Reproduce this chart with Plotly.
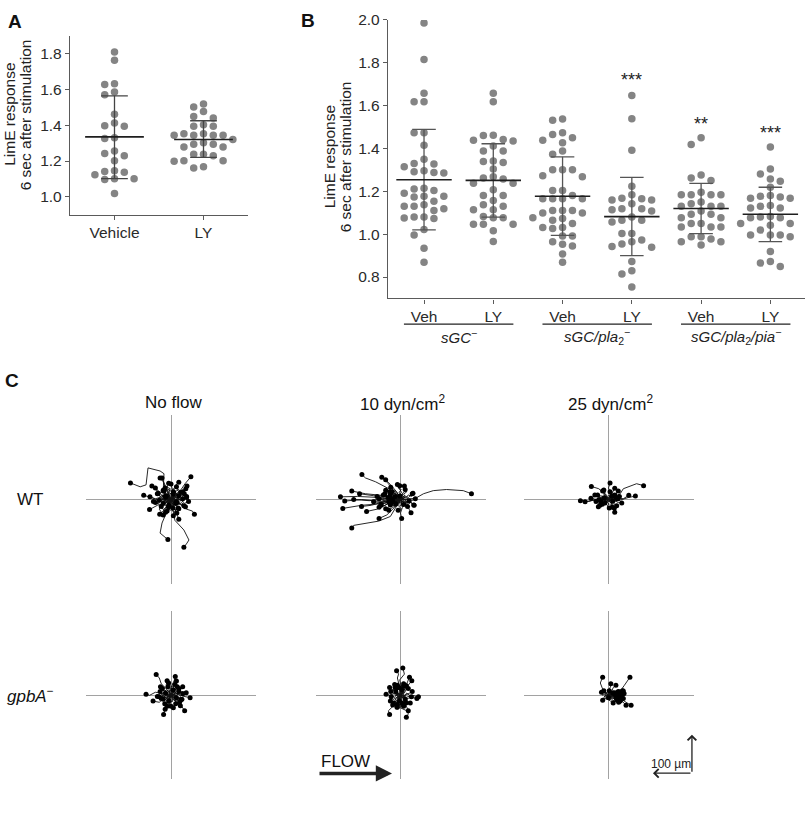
import plotly.graph_objects as go

# ---------------- Panel A data ----------------
A_CATS = ["Vehicle", "LY"]
A_VEHICLE = [1.809, 1.763, 1.632, 1.628, 1.586, 1.57, 1.461, 1.412, 1.397, 1.394, 1.33, 1.326,
             1.256, 1.242, 1.229, 1.201, 1.146, 1.141, 1.137, 1.123, 1.101, 1.101, 1.097, 1.018]
A_LY = [1.518, 1.502, 1.476, 1.449, 1.44, 1.403, 1.394, 1.394, 1.352, 1.352, 1.344, 1.344, 1.344,
        1.344, 1.32, 1.302, 1.293, 1.293, 1.278, 1.278, 1.238, 1.238, 1.229, 1.201, 1.201, 1.198,
        1.168, 1.161]
A_MEAN = [1.335, 1.32]
A_SD_HI = [1.564, 1.425]
A_SD_LO = [1.101, 1.22]
A_TICKS = [1.0, 1.2, 1.4, 1.6, 1.8]

# ---------------- Panel B data ----------------
B_TREAT = ["Veh", "LY", "Veh", "LY", "Veh", "LY"]
B_GENOTYPES = ["<i>sGC</i><sup>−</sup>", "<i>sGC/pla</i><sub>2</sub><sup>−</sup>",
               "<i>sGC/pla</i><sub>2</sub><i>/pia</i><sup>−</sup>"]
B_G1 = [1.986, 1.815, 1.658, 1.618, 1.618, 1.473, 1.473, 1.415, 1.35, 1.33, 1.327, 1.315, 1.296,
        1.291, 1.288, 1.285, 1.214, 1.211, 1.204, 1.191, 1.177, 1.177, 1.173, 1.154, 1.137, 1.13,
        1.13, 1.119, 1.111, 1.08, 1.08, 1.076, 1.073, 1.022, 0.996, 0.934, 0.869]
B_G2 = [1.658, 1.618, 1.462, 1.461, 1.442, 1.438, 1.435, 1.412, 1.388, 1.388, 1.342, 1.339, 1.335,
        1.304, 1.268, 1.262, 1.258, 1.238, 1.238, 1.207, 1.181, 1.181, 1.157, 1.137, 1.13, 1.114,
        1.114, 1.083, 1.077, 1.077, 1.046, 1.046, 1.046, 1.016, 0.966]
B_G3 = [1.538, 1.532, 1.473, 1.465, 1.45, 1.438, 1.427, 1.388, 1.373, 1.301, 1.301, 1.301, 1.273,
        1.268, 1.204, 1.204, 1.181, 1.165, 1.165, 1.165, 1.165, 1.111, 1.111, 1.111, 1.099, 1.099,
        1.077, 1.073, 1.065, 1.05, 1.031, 1.031, 1.026, 0.991, 0.991, 0.965, 0.953, 0.945, 0.908,
        0.869]
B_G4 = [1.647, 1.539, 1.392, 1.224, 1.184, 1.168, 1.165, 1.16, 1.16, 1.142, 1.119, 1.119, 1.114,
        1.108, 1.08, 1.065, 1.065, 1.057, 1.003, 1.003, 0.973, 0.965, 0.954, 0.942, 0.939, 0.872,
        0.829, 0.814, 0.754]
B_G5 = [1.45, 1.419, 1.276, 1.262, 1.25, 1.196, 1.184, 1.184, 1.184, 1.184, 1.15, 1.142, 1.13, 1.13,
        1.13, 1.108, 1.093, 1.093, 1.077, 1.077, 1.05, 1.05, 1.034, 1.034, 1.034, 0.988, 0.988,
        0.977, 0.965, 0.965, 0.95]
B_G6 = [1.407, 1.304, 1.281, 1.258, 1.247, 1.219, 1.181, 1.177, 1.173, 1.168, 1.168, 1.134, 1.13,
        1.122, 1.122, 1.083, 1.08, 1.077, 1.077, 1.05, 1.05, 1.042, 1.019, 0.996, 0.996, 0.996,
        0.988, 0.919, 0.872, 0.865, 0.849]
B_MEAN = [1.254, 1.251, 1.177, 1.082, 1.12, 1.093]
B_SD_HI = [1.489, 1.422, 1.361, 1.265, 1.237, 1.219]
B_SD_LO = [1.02, 1.08, 0.994, 0.90, 1.003, 0.965]
B_STARS = ["", "", "", "***", "**", "***"]
B_STAR_Y = [None, None, None, 1.72, 1.515, 1.473]
B_TICKS = [0.8, 1.0, 1.2, 1.4, 1.6, 1.8, 2.0]

# ---------------- Panel C data (cell tracks, µm; x = flow direction) ----------------
C_COLUMNS = ["No flow", "10 dyn/cm<sup>2</sup>", "25 dyn/cm<sup>2</sup>"]
C_ROWS = ["WT", "<i>gpbA</i><sup>−</sup>"]
SCALE_BAR_UM = 100

WT_NOFLOW = [
    [(0, 0), (-20, 20), (-18, 67), (-28, 74), (-59, 82), (-61, 61), (-64, 38), (-79, 33), (-104, 43)],
    [(0, 0), (26, 26), (36, 41), (51, 59)],
    [(0, 0), (-13, 26), (-20, 46), (-28, 56)],
    [(0, 0), (-8, 20), (-15, 38), (-23, 56)],
    [(0, 0), (-20, 8), (-36, 23), (-49, 35)],
    [(0, 0), (15, 10), (28, 20), (41, 35)],
    [(0, 0), (-25, -5), (-50, 5), (-70, 11)],
    [(0, 0), (-20, 8), (-40, 2), (-54, 7)],
    [(0, 0), (15, -5), (25, 10), (34, 15)],
    [(0, 0), (12, -10), (25, -12), (37, -19)],
    [(0, 0), (-15, -10), (-35, -15), (-55, -26)],
    [(0, 0), (20, -10), (40, -25), (55, -30), (60, -38)],
    [(0, 0), (-10, -15), (-20, -30), (-29, -38)],
    [(0, 0), (8, -20), (15, -35), (20, -51)],
    [(0, 0), (-10, -30), (-23, -61), (-28, -87), (-8, -104)],
    [(0, 0), (10, -54), (33, -79), (46, -105), (41, -113), (33, -124)],
    [(0, 0), (10, 15), (-5, 25), (-15, 30)],
    [(0, 0), (-10, -5), (-25, 5), (-35, 15)],
    [(0, 0), (15, 5), (30, -5), (40, 5)],
    [(0, 0), (-5, -15), (10, -25), (15, -35)],
    [(0, 0), (20, 20), (10, 35), (20, 45)],
    [(0, 0), (-20, -10), (-30, -25), (-20, -40)],
    [(0, 0), (5, 10), (25, 15), (38, 28)],
    [(0, 0), (-15, 15), (-30, 20), (-40, 30)],
    [(0, 0), (10, -10), (-5, -20), (-10, -30)],
    [(0, 0), (-10, 10), (5, 20), (0, 40)],
    [(0, 0), (25, 0), (35, -10), (45, -5)],
    [(0, 0), (-25, 0), (-35, -10), (-45, -5)],
    [(0, 0), (12, 18), (22, 8), (30, 20)],
    [(0, 0), (-12, -18), (-2, -28), (5, -22)],
    [(0, 0), (8, 6), (3, 14), (12, 20), (6, 28), (14, 33)],
    [(0, 0), (-6, 8), (-14, 4), (-20, 12), (-28, 8), (-33, 16)],
    [(0, 0), (6, -8), (14, -4), (20, -12), (28, -8), (33, -16)],
    [(0, 0), (-8, -6), (-3, -14), (-12, -20), (-6, -28), (-14, -33)],
    [(0, 0), (10, 3), (16, 12), (10, 20), (20, 26), (25, 18)],
    [(0, 0), (-10, -3), (-16, -12), (-10, -20), (-20, -26), (-25, -18)],
    [(0, 0), (4, 12), (-6, 18), (-2, 28), (-10, 32), (-6, 42)],
    [(0, 0), (-4, -12), (6, -18), (2, -28), (10, -32), (6, -42)],
    [(0, 0), (12, -3), (18, 6), (28, 2), (32, 12), (40, 8)],
    [(0, 0), (-12, 3), (-18, -6), (-28, -2), (-32, -12), (-40, -8)],
    [(0, 0), (5, 5), (12, -2), (18, 6), (24, -4), (30, 2)],
    [(0, 0), (-5, -5), (-12, 2), (-18, -6), (-24, 4), (-30, -2)],
    [(0, 0), (3, -6), (10, -12), (4, -20), (12, -26), (18, -22)],
    [(0, 0), (-3, 6), (-10, 12), (-4, 20), (-12, 26), (-18, 22)],
    [(0, 0), (7, 9), (-2, 12), (-9, 6), (-14, 14), (-20, 24)],
    [(0, 0), (-7, -9), (2, -12), (9, -6), (14, -14), (20, -24)],
    [(0, 0), (5, -3), (2, 6), (10, 8), (6, 14)],
    [(0, 0), (-5, 3), (-2, -6), (-10, -8), (-6, -14)],
    [(0, 0), (4, 4), (10, 0), (8, -8), (14, -6)],
    [(0, 0), (-4, -4), (-10, 0), (-8, 8), (-14, 6)],
    [(0, 0), (3, 7), (-4, 10), (-8, 4), (-12, 10)],
    [(0, 0), (-3, -7), (4, -10), (8, -4), (12, -10)],
    [(0, 0), (6, 2), (12, 8), (16, 2), (20, 10)],
    [(0, 0), (-6, -2), (-12, -8), (-16, -2), (-20, -10)],
    [(0, 0), (2, -6), (-4, -10), (0, -16), (-6, -20)],
    [(0, 0), (-2, 6), (4, 10), (0, 16), (6, 20)],
    [(0, 0), (7, -5), (4, -12), (12, -14), (16, -8)],
    [(0, 0), (-7, 5), (-4, 12), (-12, 14), (-16, 8)],
]
WT_10DYN = [
    [(0, 0), (38, 3), (59, 15), (84, 23), (118, 26), (161, 23), (182, 15)],
    [(0, 0), (-26, 26), (-64, 46), (-90, 56), (-99, 65)],
    [(0, 0), (-15, 20), (-30, 40), (-48, 58)],
    [(0, 0), (-10, 20), (-25, 38), (-38, 51)],
    [(0, 0), (5, 15), (-3, 28), (-8, 39)],
    [(0, 0), (-40, 10), (-90, 15), (-125, 22)],
    [(0, 0), (-50, 5), (-110, 8), (-154, 7)],
    [(0, 0), (-50, -5), (-100, 0), (-143, -4)],
    [(0, 0), (-40, -10), (-100, -15), (-148, -23)],
    [(0, 0), (-40, 3), (-80, -3), (-120, 0)],
    [(0, 0), (-35, 8), (-70, 10), (-105, 15)],
    [(0, 0), (-40, -5), (-75, -15), (-100, -18)],
    [(0, 0), (-30, -10), (-60, -25), (-87, -31)],
    [(0, 0), (-25, 0), (-50, -8), (-69, -6)],
    [(0, 0), (-26, -44), (-56, -56), (-87, -61), (-120, -67), (-125, -74)],
    [(0, 0), (-15, -20), (-35, -40), (-55, -49)],
    [(0, 0), (5, -20), (0, -35), (3, -49)],
    [(0, 0), (15, -10), (22, -25), (27, -34)],
    [(0, 0), (-15, 10), (-30, 5), (-40, 15)],
    [(0, 0), (-20, -10), (-35, -5), (-50, -15)],
    [(0, 0), (10, 10), (20, 5), (30, 15)],
    [(0, 0), (10, -10), (25, -5), (35, -15)],
    [(0, 0), (-10, 20), (-20, 25), (-25, 32)],
    [(0, 0), (-5, -15), (-20, -20), (-30, -28)],
    [(0, 0), (15, 0), (25, -5), (38, 2)],
    [(0, 0), (-25, 5), (-45, 0), (-60, 8)],
    [(0, 0), (-20, -5), (-40, -15), (-55, -20)],
    [(0, 0), (5, 15), (15, 25), (10, 35)],
    [(0, 0), (-10, -5), (-15, 10), (-28, 20)],
    [(0, 0), (-8, 6), (-18, 2), (-26, 10), (-36, 6), (-44, 12)],
    [(0, 0), (-10, -6), (-20, -2), (-30, -10), (-40, -6), (-50, -12)],
    [(0, 0), (6, 8), (14, 4), (20, 12), (28, 8), (32, 16)],
    [(0, 0), (6, -8), (14, -4), (20, -12), (26, -8), (34, -14)],
    [(0, 0), (-5, 10), (-14, 16), (-22, 12), (-30, 20), (-38, 24)],
    [(0, 0), (-5, -10), (-14, -16), (-22, -12), (-30, -20), (-38, -24)],
    [(0, 0), (-12, 3), (-20, -4), (-30, 2), (-42, -3), (-55, 2)],
    [(0, 0), (4, 12), (-4, 18), (2, 26), (-6, 30), (-2, 36)],
    [(0, 0), (4, -12), (-4, -18), (2, -24), (-6, -28)],
    [(0, 0), (10, 2), (16, -6), (10, -12), (18, -18)],
    [(0, 0), (-6, 4), (-10, -4), (-18, 4), (-24, -2), (-32, 5)],
    [(0, 0), (-3, -6), (-12, -8), (-16, -16), (-26, -14)],
    [(0, 0), (8, 4), (2, 10), (-8, 8), (-14, 16), (-22, 20)],
    [(0, 0), (12, 6), (8, 14), (16, 20), (12, 26)],
    [(0, 0), (-5, 3), (-10, -3), (-16, 2), (-20, -4)],
    [(0, 0), (-4, -5), (-12, -3), (-14, -10), (-22, -8)],
    [(0, 0), (4, 5), (-2, 8), (-8, 3), (-14, 8)],
    [(0, 0), (5, -4), (0, -9), (-6, -5), (-12, -11)],
    [(0, 0), (6, 1), (10, 6), (4, 11), (-2, 9)],
    [(0, 0), (-7, 1), (-12, 6), (-20, 6), (-26, 12)],
    [(0, 0), (3, -6), (9, -2), (14, -8), (8, -13)],
    [(0, 0), (-2, 6), (-9, 9), (-16, 4), (-22, 0)],
    [(0, 0), (-8, -2), (-14, -9), (-21, -12), (-30, -6)],
    [(0, 0), (7, 3), (12, -2), (18, 3), (22, -3)],
]
WT_25DYN = [
    [(0, 0), (30, 15), (38, 28), (59, 37), (72, 41), (90, 36)],
    [(0, 0), (-10, 15), (-25, 28), (-44, 34)],
    [(0, 0), (5, 15), (0, 30), (4, 43)],
    [(0, 0), (8, 12), (12, 22), (16, 29)],
    [(0, 0), (20, 5), (38, 2), (52, 11)],
    [(0, 0), (25, -3), (50, 5), (69, 9)],
    [(0, 0), (-25, 3), (-50, -5), (-72, -3)],
    [(0, 0), (-20, -5), (-40, -2), (-60, -6)],
    [(0, 0), (-15, 5), (-30, 0), (-45, 3)],
    [(0, 0), (-10, -8), (-18, -12), (-26, -19)],
    [(0, 0), (8, -12), (12, -25), (16, -33)],
    [(0, 0), (10, -5), (15, -12), (21, -16)],
    [(0, 0), (15, -2), (25, -8), (34, -9)],
    [(0, 0), (-10, 10), (-20, 5), (-28, 12)],
    [(0, 0), (10, 8), (20, 15), (25, 22)],
    [(0, 0), (-8, -10), (-15, -5), (-22, -15)],
    [(0, 0), (12, -5), (5, -15), (10, -20)],
    [(0, 0), (-5, 12), (-15, 18), (-12, 25)],
    [(0, 0), (15, 5), (22, 0), (28, 8)],
    [(0, 0), (-12, 0), (-20, -8), (-32, -5)],
    [(0, 0), (-10, 8), (-25, 10), (-35, 12)],
    [(0, 0), (5, 5), (0, 10), (8, 14), (4, 20)],
    [(0, 0), (-6, 4), (-12, -2), (-18, 4), (-24, 0)],
    [(0, 0), (6, -4), (12, 2), (18, -4), (24, 2)],
    [(0, 0), (-4, -6), (2, -12), (-4, -16), (2, -22)],
    [(0, 0), (8, 6), (14, 0), (20, 6), (16, 12)],
    [(0, 0), (-8, -6), (-14, 0), (-20, -6), (-16, -12)],
    [(0, 0), (-5, 8), (-12, 12), (-8, 18), (-15, 22)],
    [(0, 0), (5, -8), (12, -12), (8, -18), (15, -22)],
    [(0, 0), (10, -2), (6, 6), (12, 10), (20, 4)],
    [(0, 0), (-10, 2), (-6, -6), (-12, -10), (-20, -4)],
    [(0, 0), (4, -3), (8, 2), (3, 6), (9, 9)],
    [(0, 0), (-4, 3), (-8, -2), (-3, -6), (-9, -9)],
    [(0, 0), (3, 4), (-3, 6), (-6, 1), (-11, 4)],
    [(0, 0), (-3, -4), (3, -6), (6, -1), (11, -4)],
]
GP_NOFLOW = [
    [(0, 0), (-10, 15), (-25, 30), (-30, 45), (-38, 54)],
    [(0, 0), (-20, 5), (-40, 8), (-55, 0), (-64, 3)],
    [(0, 0), (15, 5), (30, -2), (49, -6)],
    [(0, 0), (10, -15), (25, -25), (35, -40)],
    [(0, 0), (-5, -20), (-15, -35), (-19, -50)],
    [(0, 0), (-15, -5), (-30, -18), (-46, -15)],
    [(0, 0), (5, 15), (8, 28), (14, 37)],
    [(0, 0), (0, 20), (8, 38), (11, 49)],
    [(0, 0), (-5, 15), (-12, 28), (-10, 38)],
    [(0, 0), (-10, 5), (-20, 15), (-27, 22)],
    [(0, 0), (15, 0), (28, 10), (39, 7)],
    [(0, 0), (10, -10), (15, -20), (24, -27)],
    [(0, 0), (-8, -12), (-10, -25), (-15, -36)],
    [(0, 0), (10, 10), (0, 18), (-8, 22)],
    [(0, 0), (-12, -8), (-20, 0), (-25, -8)],
    [(0, 0), (8, -8), (18, -5), (25, -12)],
    [(0, 0), (-5, 10), (10, 15), (20, 18)],
    [(0, 0), (5, -15), (-5, -20), (0, -28)],
    [(0, 0), (18, 5), (25, 15), (30, 22)],
    [(0, 0), (-15, 0), (-28, 5), (-35, -3)],
    [(0, 0), (10, -5), (20, -18), (12, -22)],
    [(0, 0), (6, 6), (0, 12), (8, 16), (4, 24), (10, 28)],
    [(0, 0), (-6, 6), (-12, 0), (-18, 8), (-24, 4), (-28, 10)],
    [(0, 0), (6, -6), (12, 0), (18, -8), (24, -4), (28, -10)],
    [(0, 0), (-6, -6), (0, -12), (-8, -16), (-4, -24), (-10, -28)],
    [(0, 0), (10, 4), (14, 12), (8, 18), (16, 22)],
    [(0, 0), (-10, -4), (-14, -12), (-8, -18), (-16, -22)],
    [(0, 0), (-4, 10), (-12, 14), (-18, 10), (-22, 18)],
    [(0, 0), (4, -10), (12, -14), (18, -10), (22, -18)],
    [(0, 0), (12, -2), (18, 4), (24, -2), (30, 4)],
    [(0, 0), (-12, 2), (-18, -4), (-24, 2), (-30, -4)],
    [(0, 0), (3, 8), (-3, 14), (3, 20), (-3, 26), (-6, 32)],
    [(0, 0), (-3, -8), (3, -14), (-3, -20), (3, -26), (6, -32)],
    [(0, 0), (5, -3), (2, 6), (10, 8), (6, 14)],
    [(0, 0), (-5, 3), (-2, -6), (-10, -8), (-6, -14)],
    [(0, 0), (4, 4), (10, 0), (8, -8), (14, -6)],
    [(0, 0), (-4, -4), (-10, 0), (-8, 8), (-14, 6)],
    [(0, 0), (6, 2), (12, 8), (16, 2), (20, 10)],
    [(0, 0), (-6, -2), (-12, -8), (-16, -2), (-20, -10)],
]
GP_10DYN = [
    [(0, 0), (-3, 25), (-8, 45), (-5, 55), (-10, 64)],
    [(0, 0), (2, 20), (-2, 40), (10, 55), (6, 71)],
    [(0, 0), (10, 15), (18, 35), (23, 47)],
    [(0, 0), (12, 15), (22, 28), (29, 38)],
    [(0, 0), (-10, 8), (-20, 15), (-28, 20)],
    [(0, 0), (-15, 5), (-28, 0), (-37, 3)],
    [(0, 0), (15, -5), (30, 0), (46, -4)],
    [(0, 0), (12, -10), (28, -5), (42, -8)],
    [(0, 0), (-5, -15), (-18, -27), (-31, -40), (-28, -50)],
    [(0, 0), (3, -15), (-1, -32), (16, -40), (20, -48), (15, -57)],
    [(0, 0), (10, -12), (15, -28), (20, -40)],
    [(0, 0), (-10, -5), (-18, -10), (-26, -15)],
    [(0, 0), (-3, -12), (-5, -22), (-9, -31)],
    [(0, 0), (-10, 10), (-5, 22), (-15, 28)],
    [(0, 0), (10, 8), (5, 20), (15, 25)],
    [(0, 0), (-8, -10), (-15, -18), (-20, -25)],
    [(0, 0), (8, -8), (18, -15), (25, -20)],
    [(0, 0), (-12, 0), (-20, 8), (-25, 10)],
    [(0, 0), (12, 0), (22, 5), (30, 10)],
    [(0, 0), (5, 12), (-5, 15), (-8, 20)],
    [(0, 0), (-5, -8), (5, -18), (8, -28)],
    [(0, 0), (5, 6), (0, 12), (6, 18), (2, 26), (8, 30)],
    [(0, 0), (-5, -6), (0, -12), (-6, -18), (-2, -26), (-8, -30)],
    [(0, 0), (-6, 5), (-12, 0), (-10, 10), (-18, 14), (-14, 20)],
    [(0, 0), (6, -5), (12, 0), (10, -10), (18, -14), (14, -20)],
    [(0, 0), (8, 4), (4, 12), (12, 16), (8, 24)],
    [(0, 0), (-8, -4), (-4, -12), (-12, -16), (-8, -24)],
    [(0, 0), (-4, 8), (4, 14), (-2, 20), (-8, 26)],
    [(0, 0), (4, -8), (-4, -14), (2, -20), (8, -26)],
    [(0, 0), (10, -2), (16, 6), (22, 0), (28, -4)],
    [(0, 0), (-10, 2), (-16, -6), (-20, 0), (-24, -4)],
    [(0, 0), (2, 10), (10, 6), (14, 14), (20, 18)],
    [(0, 0), (-2, -10), (-10, -6), (-14, -14), (-18, -20)],
    [(0, 0), (4, -3), (1, 5), (7, 9), (3, 15)],
    [(0, 0), (-4, 3), (-1, -5), (-7, -9), (-3, -15)],
    [(0, 0), (3, 5), (9, 2), (7, -6), (12, -10)],
    [(0, 0), (-3, -5), (-9, -2), (-7, 6), (-12, 10)],
    [(0, 0), (2, -7), (-5, -10), (-2, -17), (4, -20)],
    [(0, 0), (-2, 7), (5, 10), (2, 17), (-4, 20)],
]
GP_25DYN = [
    [(0, 0), (-13, 11), (-21, 32), (-18, 40), (-15, 47)],
    [(0, 0), (30, 11), (40, 25), (47, 37), (55, 47)],
    [(0, 0), (-5, -5), (-10, -10), (-15, -13)],
    [(0, 0), (20, -5), (35, -15), (45, -26)],
    [(0, 0), (25, -5), (45, -18), (58, -26)],
    [(0, 0), (0, 12), (5, 22), (6, 30)],
    [(0, 0), (8, 10), (12, 20), (19, 26)],
    [(0, 0), (15, 5), (28, 8), (38, 11)],
    [(0, 0), (12, -5), (22, -10), (30, -15)],
    [(0, 0), (10, 5), (20, 0), (28, 5)],
    [(0, 0), (-8, 5), (-15, 0), (-18, 8)],
    [(0, 0), (10, -8), (20, -5), (30, -10)],
    [(0, 0), (5, 8), (15, 12), (25, 10)],
    [(0, 0), (-5, -8), (5, -15), (12, -20)],
    [(0, 0), (15, 0), (25, -8), (35, 0)],
    [(0, 0), (-10, -3), (-5, 5), (-12, 12)],
    [(0, 0), (20, 8), (30, 15), (40, 5)],
    [(0, 0), (6, 4), (12, 0), (18, 6), (24, 2)],
    [(0, 0), (6, -4), (12, 0), (18, -6), (24, -2), (30, -6)],
    [(0, 0), (-4, 4), (0, 8), (8, 10), (14, 6)],
    [(0, 0), (4, -6), (10, -10), (16, -6), (22, -12)],
    [(0, 0), (-6, -2), (-10, 4), (-4, 8), (2, 12)],
    [(0, 0), (10, 2), (16, -4), (24, 0), (32, -4), (38, -8)],
    [(0, 0), (8, 8), (16, 4), (22, 10), (30, 6)],
    [(0, 0), (2, -8), (10, -14), (18, -12), (26, -18)],
    [(0, 0), (-8, 0), (-12, -6), (-6, -10), (0, -6)],
    [(0, 0), (12, 6), (20, 12), (28, 8), (36, 12)],
    [(0, 0), (5, -2), (9, 3), (14, -1), (18, 4)],
    [(0, 0), (4, 3), (9, -2), (13, 4), (19, 0)],
    [(0, 0), (-3, 2), (2, 5), (7, 2), (11, 6)],
    [(0, 0), (3, -3), (8, -6), (14, -3), (20, -8)],
]

# ---------------- styling ----------------
W, H = 810, 815
FONT = "Liberation Sans, Arial, sans-serif"
NARROW = "Liberation Sans Narrow, Liberation Sans, Arial, sans-serif"
DOT = "#848484"
AXC = "#5a5a5a"


def px(x):
    return x / W


def py(y):
    return 1 - y / H


def swarm(values, step, thresh):
    order = [0, -1, 1, -2, 2, -3, 3, -4, 4]
    placed, offs = [], []
    for v in values:
        slot = order[-1]
        for s in order:
            if all(not (ps == s and abs(pv - v) < thresh) for ps, pv in placed):
                slot = s
                break
        placed.append((slot, v))
        offs.append(slot * step)
    return offs


def text(x, y, t, size, family=FONT, angle=0, xref="paper", yref="paper", color="#222"):
    return dict(x=x, y=y, xref=xref, yref=yref, text=t, showarrow=False, textangle=angle,
                xanchor="center", yanchor="middle",
                font=dict(family=family, size=size, color=color))


fig = go.Figure()
ann = []
shapes = []

# ---- Panel A ----
for i, vals in enumerate([A_VEHICLE, A_LY]):
    offs = swarm(vals, 0.11, 0.042)
    fig.add_trace(go.Scatter(x=[i + o for o in offs], y=vals, mode="markers",
                             marker=dict(color=DOT, size=7.5), xaxis="x", yaxis="y",
                             showlegend=False, hoverinfo="skip"))
    fig.add_trace(go.Scatter(
        x=[i - 0.15, i + 0.15, None, i - 0.15, i + 0.15, None, i, i],
        y=[A_SD_HI[i], A_SD_HI[i], None, A_SD_LO[i], A_SD_LO[i], None, A_SD_LO[i], A_SD_HI[i]],
        mode="lines", line=dict(color="#444", width=1.3), xaxis="x", yaxis="y",
        showlegend=False, hoverinfo="skip"))
    fig.add_trace(go.Scatter(
        x=[i - 0.33, i + 0.33], y=[A_MEAN[i], A_MEAN[i]],
        mode="lines", line=dict(color="#1e1e1e", width=1.6), xaxis="x", yaxis="y",
        showlegend=False, hoverinfo="skip"))

# ---- Panel B ----
for i, vals in enumerate([B_G1, B_G2, B_G3, B_G4, B_G5, B_G6]):
    offs = swarm(vals, 0.143, 0.036)
    fig.add_trace(go.Scatter(x=[i + o for o in offs], y=vals, mode="markers",
                             marker=dict(color=DOT, size=7.5), xaxis="x2", yaxis="y2",
                             showlegend=False, hoverinfo="skip"))
    fig.add_trace(go.Scatter(
        x=[i - 0.17, i + 0.17, None, i - 0.17, i + 0.17, None, i, i],
        y=[B_SD_HI[i], B_SD_HI[i], None, B_SD_LO[i], B_SD_LO[i], None, B_SD_LO[i], B_SD_HI[i]],
        mode="lines", line=dict(color="#555555", width=1.3), xaxis="x2", yaxis="y2",
        showlegend=False, hoverinfo="skip"))
    fig.add_trace(go.Scatter(
        x=[i - 0.4, i + 0.4], y=[B_MEAN[i], B_MEAN[i]],
        mode="lines", line=dict(color="#1e1e1e", width=1.6), xaxis="x2", yaxis="y2",
        showlegend=False, hoverinfo="skip"))
    if B_STARS[i]:
        ann.append(text(i, B_STAR_Y[i], B_STARS[i], 18, xref="x2", yref="y2"))

# ---- Panel C ----
C_PANELS = [WT_NOFLOW, WT_10DYN, WT_25DYN, GP_NOFLOW, GP_10DYN, GP_25DYN]
for k, tracks in enumerate(C_PANELS):
    ax = str(k + 3)
    xs, ys, ex, ey = [], [], [], []
    for t in tracks:
        for (a, b) in t:
            xs.append(a)
            ys.append(b)
        xs.append(None)
        ys.append(None)
        ex.append(t[-1][0])
        ey.append(t[-1][1])
    fig.add_trace(go.Scatter(x=xs, y=ys, mode="lines", line=dict(color="#111", width=0.9),
                             xaxis="x" + ax, yaxis="y" + ax, showlegend=False, hoverinfo="skip"))
    fig.add_trace(go.Scatter(x=ex, y=ey, mode="markers", marker=dict(color="#000", size=5),
                             xaxis="x" + ax, yaxis="y" + ax, showlegend=False, hoverinfo="skip"))

layout = dict(
    width=W, height=H, margin=dict(l=0, r=0, t=0, b=0),
    paper_bgcolor="white", plot_bgcolor="white", showlegend=False,
    font=dict(family=FONT, size=14, color="#222"),
)
tickfont = dict(family=FONT, size=15.5, color="#2a2a2a")
common_ax = dict(showline=True, linecolor=AXC, linewidth=1.3, ticks="outside", ticklen=4,
                 tickcolor=AXC, showgrid=False, zeroline=False, tickfont=tickfont)
layout["xaxis"] = dict(domain=[px(70), px(248)], range=[-0.5, 1.5], tickvals=[0, 1],
                       ticktext=A_CATS, anchor="y", **common_ax)
layout["yaxis"] = dict(domain=[py(208), py(27)], range=[0.9, 1.9], tickvals=A_TICKS,
                       tickformat=".1f", anchor="x", **common_ax)
layout["xaxis2"] = dict(domain=[px(388), px(805)], range=[-0.52, 5.5], tickvals=list(range(6)),
                        ticktext=B_TREAT, anchor="y2", **common_ax)
layout["yaxis2"] = dict(domain=[py(292.7), py(11)], range=[0.7, 2.0], tickvals=B_TICKS,
                        tickformat=".1f", anchor="x2", **common_ax)

col_x = [171, 400.5, 608.5]
row_y = [496, 694]
HALF = 85
for k in range(6):
    r, c = divmod(k, 3)
    n = str(k + 3)
    common = dict(range=[-218, 218], showgrid=False, showticklabels=False, ticks="",
                  showline=False, zeroline=True, zerolinecolor="#a2a2a2", zerolinewidth=1.4,
                  fixedrange=True)
    layout["xaxis" + n] = dict(domain=[px(col_x[c] - HALF), px(col_x[c] + HALF)],
                               anchor="y" + n, **common)
    layout["yaxis" + n] = dict(domain=[py(row_y[r] + HALF), py(row_y[r] - HALF)],
                               anchor="x" + n, **common)

# panel letters
for t, x, y in [("A", 15, 13), ("B", 308, 12), ("C", 12, 376)]:
    ann.append(text(px(x), py(y), "<b>%s</b>" % t, 19, color="#111"))
# y-axis titles (two lines, tight spacing)
for x1, x2, y in [(10, 25.5, 107), (329, 345, 150)]:
    ann.append(text(px(x1), py(y), "LimE response", 15.5, angle=-90))
    ann.append(text(px(x2), py(y), "6 sec after stimulation", 15.5, angle=-90))
# panel B group labels and lines
for g in range(3):
    shapes.append(dict(type="line", xref="x2", yref="paper", x0=2 * g - 0.29, x1=2 * g + 1.29,
                       y0=py(318.7), y1=py(318.7), line=dict(color="#222", width=1.2)))
    ann.append(text(2 * g + 0.5, py(331), B_GENOTYPES[g], 15, xref="x2"))
# panel C column / row labels
for c, lab in enumerate(C_COLUMNS):
    ann.append(text(px(col_x[c] + 2), py(398), lab, 17, family=NARROW, color="#111"))
for r, lab in enumerate(C_ROWS):
    ann.append(text(px(30), py(row_y[r]), lab, 17, family=NARROW, color="#111"))
# FLOW arrow
ann.append(text(px(345), py(761), "FLOW", 17, family=NARROW, color="#111"))
ann.append(dict(x=px(392), y=py(773), xref="paper", yref="paper", ax=-74, ay=0, text="",
                showarrow=True, arrowhead=2, arrowsize=0.9, arrowwidth=3.6, arrowcolor="#222"))
# scale bar (in µm on the gpbA / 25 dyn panel)
cx, cy = 214, -202
ann.append(dict(x=cx, y=cy + SCALE_BAR_UM, ax=cx, ay=cy, xref="x8", yref="y8", axref="x8",
                ayref="y8", text="", showarrow=True, arrowhead=4, arrowsize=1.3, arrowwidth=1.3,
                arrowcolor="#222"))
ann.append(dict(x=cx - SCALE_BAR_UM, y=cy, ax=cx, ay=cy, xref="x8", yref="y8", axref="x8",
                ayref="y8", text="", showarrow=True, arrowhead=4, arrowsize=1.3, arrowwidth=1.3,
                arrowcolor="#222"))
ann.append(text(cx - 55, cy + 24, "100 µm", 12, family=NARROW, xref="x8", yref="y8"))

layout["annotations"] = ann
layout["shapes"] = shapes
fig.update_layout(**layout)
fig.write_html("out.html", config={"displayModeBar": False},
               post_script="document.body.style.margin='0';")
